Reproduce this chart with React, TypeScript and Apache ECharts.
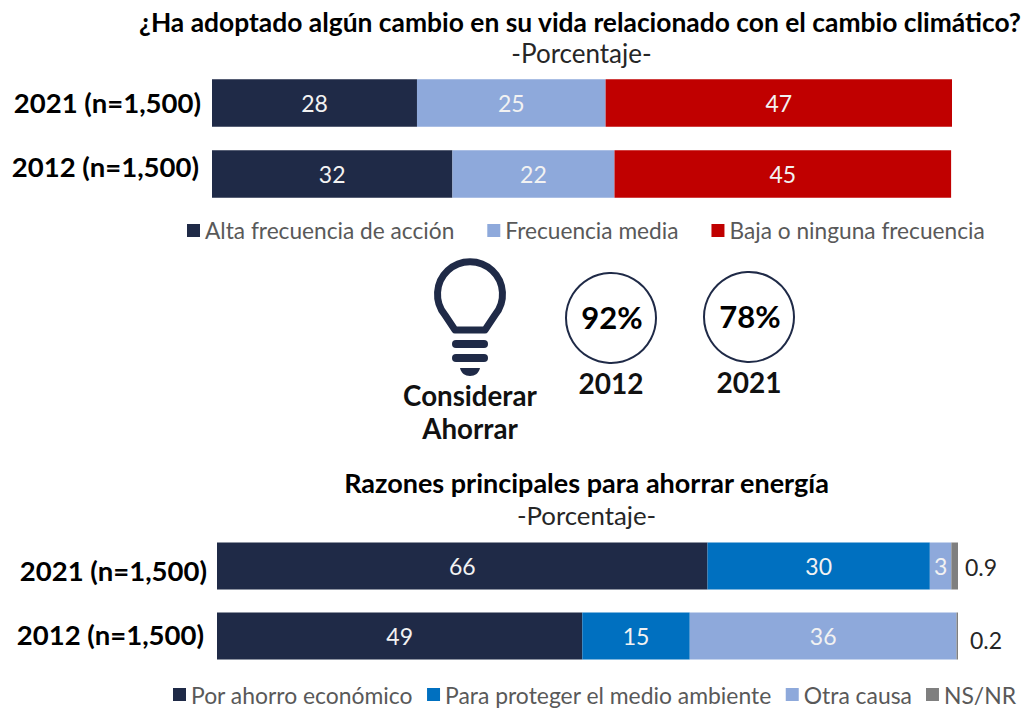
import React, { useEffect, useRef } from "react";
import * as echarts from "echarts";

const FONT = "Lato";
const NAVY = "#1F2A47";
const yearsTop = ["2021 (n=1,500)", "2012 (n=1,500)"];
const yearsBottom = ["2021 (n=1,500)", "2012 (n=1,500)"];
const alta = [27.7, 32.49];
const media = [25.49, 21.9];
const baja = [46.81, 45.49];
const ahorro = [66.2, 49.3];
const proteger = [30.0, 14.5];
const otra = [2.9, 36.0];
const nsnr = [0.9, 0.2];
const topNames = ["Alta frecuencia de acción", "Frecuencia media", "Baja o ninguna frecuencia"];
const bottomNames = ["Por ahorro económico", "Para proteger el medio ambiente", "Otra causa", "NS/NR"];
const considerar = [
  { year: "2012", value: "92%" },
  { year: "2021", value: "78%" },
];

const bulbD =
  "M455 330 L445 315 A32.5 32.5 0 1 1 495 315 L485 330 Z";
const baseD =
  "M460 368 L480 368 C479 373 475 376 470 376 C465 376 461 373 460 368 Z";

export default function App() {
  const ref = useRef<HTMLDivElement>(null);
  useEffect(() => {
    echarts.graphic.registerShape("bulbOutline", echarts.graphic.extendPath(bulbD, {}) as any);
    echarts.graphic.registerShape("bulbBase", echarts.graphic.extendPath(baseD, {}) as any);
    const chart = echarts.init(ref.current!, undefined, { renderer: "svg" });
    const barLabel = {
      show: true,
      position: "inside" as const,
      color: "#F2F2F2",
      fontFamily: FONT,
      fontSize: 23,
      formatter: (p: any) => String(Math.round(p.value)),
    };
    const stackBar = (name: string, data: any[], color: string, idx: number, stack: string, barWidth: number) => ({
      type: "bar" as const,
      name,
      data,
      stack,
      xAxisIndex: idx,
      yAxisIndex: idx,
      barWidth,
      itemStyle: { color },
      label: barLabel,
    });
    const axisText = {
      color: "#000",
      fontFamily: FONT,
      fontWeight: "bold" as const,
      fontSize: 27.5,
    };
    chart.setOption({
      animation: false,
      backgroundColor: "#fff",
      textStyle: { fontFamily: FONT },
      title: [
        {
          text: "¿Ha adoptado algún cambio en su vida relacionado con el cambio climático?",
          left: 575,
          top: 4,
          textAlign: "center",
          textStyle: { fontFamily: FONT, fontSize: 26.4, fontWeight: "bold", color: "#000" },
        },
        {
          text: "-Porcentaje-",
          left: 576.5,
          top: 35,
          textAlign: "center",
          textStyle: { fontFamily: FONT, fontSize: 26, fontWeight: "normal", color: "#262626" },
        },
        {
          text: "Razones principales para ahorrar energía",
          left: 581.5,
          top: 464,
          textAlign: "center",
          textStyle: { fontFamily: FONT, fontSize: 27, fontWeight: "bold", color: "#000" },
        },
        {
          text: "-Porcentaje-",
          left: 581.5,
          top: 497,
          textAlign: "center",
          textStyle: { fontFamily: FONT, fontSize: 25.8, fontWeight: "normal", color: "#262626" },
        },
      ],
      grid: [
        { left: 212, top: 67.5, width: 740, height: 142, containLabel: false },
        { left: 217, top: 531, width: 741, height: 140, containLabel: false },
      ],
      xAxis: [
        { type: "value", gridIndex: 0, min: 0, max: 100, show: false },
        { type: "value", gridIndex: 1, min: 0, max: 100, show: false },
      ],
      yAxis: [
        {
          type: "category",
          gridIndex: 0,
          inverse: true,
          axisLine: { show: false },
          axisTick: { show: false },
          axisLabel: { ...axisText, margin: 11 },
          data: [
            { value: yearsTop[0], textStyle: { verticalAlign: "bottom", lineHeight: 2 } },
            { value: yearsTop[1], textStyle: { padding: [0, 2, 0, 0], verticalAlign: "bottom", lineHeight: 16 } },
          ],
        },
        {
          type: "category",
          gridIndex: 1,
          inverse: true,
          axisLine: { show: false },
          axisTick: { show: false },
          axisLabel: { ...axisText, margin: 10 },
          data: [
            { value: yearsBottom[0], textStyle: { verticalAlign: "top", lineHeight: 8 } },
            { value: yearsBottom[1], textStyle: { padding: [0, 3, 0, 0], verticalAlign: "bottom", lineHeight: 4 } },
          ],
        },
      ],
      legend: [
        {
          data: topNames,
          left: 182,
          top: 214,
          itemWidth: 13,
          itemHeight: 13,
          itemGap: 33,
          icon: "rect",
          textStyle: { fontFamily: FONT, fontSize: 22.7, color: "#595959" },
        },
        {
          data: bottomNames,
          left: 168,
          top: 678,
          itemWidth: 13,
          itemHeight: 13,
          itemGap: 14,
          icon: "rect",
          textStyle: { fontFamily: FONT, fontSize: 22.9, color: "#595959" },
        },
      ],
      series: [
        stackBar(topNames[0], alta, NAVY, 0, "top", 47.5),
        stackBar(topNames[1], media, "#8EA9DB", 0, "top", 47.5),
        stackBar(topNames[2], baja, "#C00000", 0, "top", 47.5),
        stackBar(bottomNames[0], ahorro, NAVY, 1, "bottom", 47),
        stackBar(bottomNames[1], proteger, "#0070C0", 1, "bottom", 47),
        stackBar(bottomNames[2], otra, "#8EA9DB", 1, "bottom", 47),
        {
          ...stackBar(bottomNames[3], nsnr, "#7F7F7F", 1, "bottom", 47),
          label: {
            show: true,
            position: "right",
            color: "#262626",
            fontFamily: FONT,
            fontSize: 23,
            formatter: (p: any) => String(p.value),
          },
          data: [
            { value: nsnr[0], label: { distance: 7, offset: [0, 1] } },
            { value: nsnr[1], label: { distance: 12, offset: [0, 4] } },
          ],
        },
      ],
      graphic: [
        {
          type: "bulbOutline",
          style: { fill: "none", stroke: NAVY, lineWidth: 7, lineJoin: "round" },
        },
        { type: "rect", shape: { x: 452, y: 340, width: 36, height: 8, r: 4 }, style: { fill: NAVY } },
        { type: "rect", shape: { x: 452, y: 354, width: 36, height: 8, r: 4 }, style: { fill: NAVY } },
        { type: "bulbBase", style: { fill: NAVY } },
        {
          type: "text",
          x: 470,
          y: 395,
          style: { text: "Considerar", font: `bold 27.7px ${FONT}`, fill: "#111", align: "center", verticalAlign: "middle" },
        },
        {
          type: "text",
          x: 470,
          y: 428,
          style: { text: "Ahorrar", font: `bold 27.7px ${FONT}`, fill: "#111", align: "center", verticalAlign: "middle" },
        },
        ...considerar.flatMap((c, i) => {
          const cx = i === 0 ? 611 : 749;
          const cy = i === 0 ? 318 : 317;
          return [
            { type: "circle", shape: { cx, cy, r: 45 }, style: { fill: "#fff", stroke: NAVY, lineWidth: 2 } },
            {
              type: "text",
              x: cx + 1,
              y: cy - 1,
              style: { text: c.value, font: `bold 31px ${FONT}`, fill: "#000", align: "center", verticalAlign: "middle" },
            },
            {
              type: "text",
              x: cx,
              y: cy + 65,
              style: { text: c.year, font: `bold 28px ${FONT}`, fill: "#111", align: "center", verticalAlign: "middle" },
            },
          ];
        }),
      ],
    });
    return () => chart.dispose();
  }, []);
  return <div ref={ref} style={{ position: "fixed", left: 0, top: 0, width: 1028, height: 708 }} />;
}
